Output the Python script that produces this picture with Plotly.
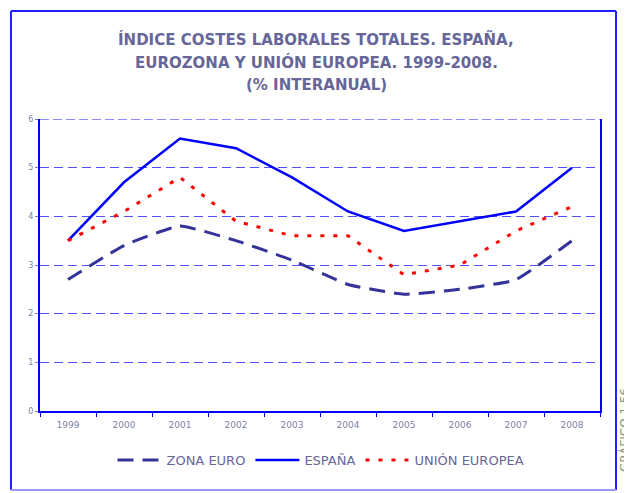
import plotly.graph_objects as go

years = ["1999", "2000", "2001", "2002", "2003", "2004", "2005", "2006", "2007", "2008"]
zona_euro = [2.7, 3.4, 3.8, 3.5, 3.1, 2.6, 2.4, 2.5, 2.7, 3.5]
espana = [3.5, 4.7, 5.6, 5.4, 4.8, 4.1, 3.7, 3.9, 4.1, 5.0]
union_europea = [3.5, 4.1, 4.8, 3.9, 3.6, 3.6, 2.8, 3.0, 3.7, 4.2]
y_ticks = [0, 1, 2, 3, 4, 5, 6]
title_lines = ["ÍNDICE COSTES LABORALES TOTALES. ESPAÑA,",
               "EUROZONA Y UNIÓN EUROPEA. 1999-2008.",
               "(% INTERANUAL)"]

title_color = "#666699"
tick_color = "#7f7fa6"

# figure sits inside the page with an 8px body margin
W, H = 624, 485
L, T = 32, 111
PW, PH = 560, 292
R, B = W - L - PW, H - T - PH


def px(xw):  # window x -> paper x
    return (xw - 8 - L) / PW


def py(yw):  # window y -> paper y
    return (T + PH - (yw - 8)) / PH


fig = go.Figure()
fig.add_trace(go.Scatter(x=years, y=zona_euro, mode="lines", name="ZONA EURO",
                         line=dict(color="#333399", width=3, dash="16px,9px", shape="spline", smoothing=0.4)))
fig.add_trace(go.Scatter(x=years, y=espana, mode="lines", name="ESPAÑA",
                         line=dict(color="#0000ff", width=2.5)))
fig.add_trace(go.Scatter(x=years, y=union_europea, mode="lines", name="UNIÓN EUROPEA",
                         line=dict(color="#ff0000", width=3, dash="4px,9px")))

annotations = []
for i, (line, yw) in enumerate(zip(title_lines, [40, 62, 85])):
    annotations.append(dict(text=line, xref="paper", yref="paper", x=px(316), y=py(yw),
                            xanchor="center", yanchor="middle", showarrow=False,
                            font=dict(family="DejaVu Sans", size=15, color=title_color, weight="bold")))
annotations.append(dict(text="GRÁFICO 1.56", xref="paper", yref="paper", x=px(624), y=py(430),
                        xanchor="center", yanchor="middle", textangle=-90, showarrow=False,
                        font=dict(family="DejaVu Sans", size=12, color="#8a8a8a")))

border_blue = "#2020ff"
shapes = [
    dict(type="line", xref="paper", yref="paper", x0=px(11), x1=px(11), y0=py(11), y1=py(490),
         line=dict(color=border_blue, width=2)),
    dict(type="line", xref="paper", yref="paper", x0=px(11), x1=px(616), y0=py(11), y1=py(11),
         line=dict(color=border_blue, width=2)),
    dict(type="line", xref="paper", yref="paper", x0=px(616), x1=px(616), y0=py(11), y1=py(490),
         line=dict(color=border_blue, width=2)),
    dict(type="line", xref="paper", yref="paper", x0=px(11), x1=px(616), y0=py(490), y1=py(490),
         line=dict(color="#9999ff", width=2)),
    dict(type="line", xref="paper", yref="y", x0=0, x1=1, y0=6, y1=6,
         line=dict(color="#6666ff", width=1.5, dash="9px,4px")),
]

fig.update_layout(
    width=W, height=H,
    paper_bgcolor="white", plot_bgcolor="white",
    margin=dict(l=L, r=R, t=T, b=B),
    showlegend=True,
    legend=dict(orientation="h", x=px(321), xanchor="center", y=py(460), yanchor="middle",
                font=dict(family="DejaVu Sans", size=13, color=title_color),
                itemwidth=44, bgcolor="rgba(0,0,0,0)"),
    xaxis=dict(
        type="category", range=[-0.5, 9.5],
        showline=True, linecolor="#0000ff", linewidth=2, mirror=False,
        ticks="outside", tickson="boundaries", ticklen=4, tickcolor="#0000ff",
        ticklabelstandoff=4,
        tickfont=dict(family="DejaVu Sans", size=9, color=tick_color),
        showgrid=False, zeroline=False,
    ),
    yaxis=dict(
        range=[0, 6], tickvals=y_ticks,
        showline=True, linecolor="#0000ff", linewidth=2, mirror=True,
        ticks="outside", ticklen=3, tickcolor=tick_color,
        tickfont=dict(family="DejaVu Sans", size=8, color=tick_color),
        showgrid=True, gridcolor="#5050ff", gridwidth=1.2, griddash="9px,5px",
        zeroline=False,
    ),
    shapes=shapes,
    annotations=annotations,
)

fig.write_html("out.html")
